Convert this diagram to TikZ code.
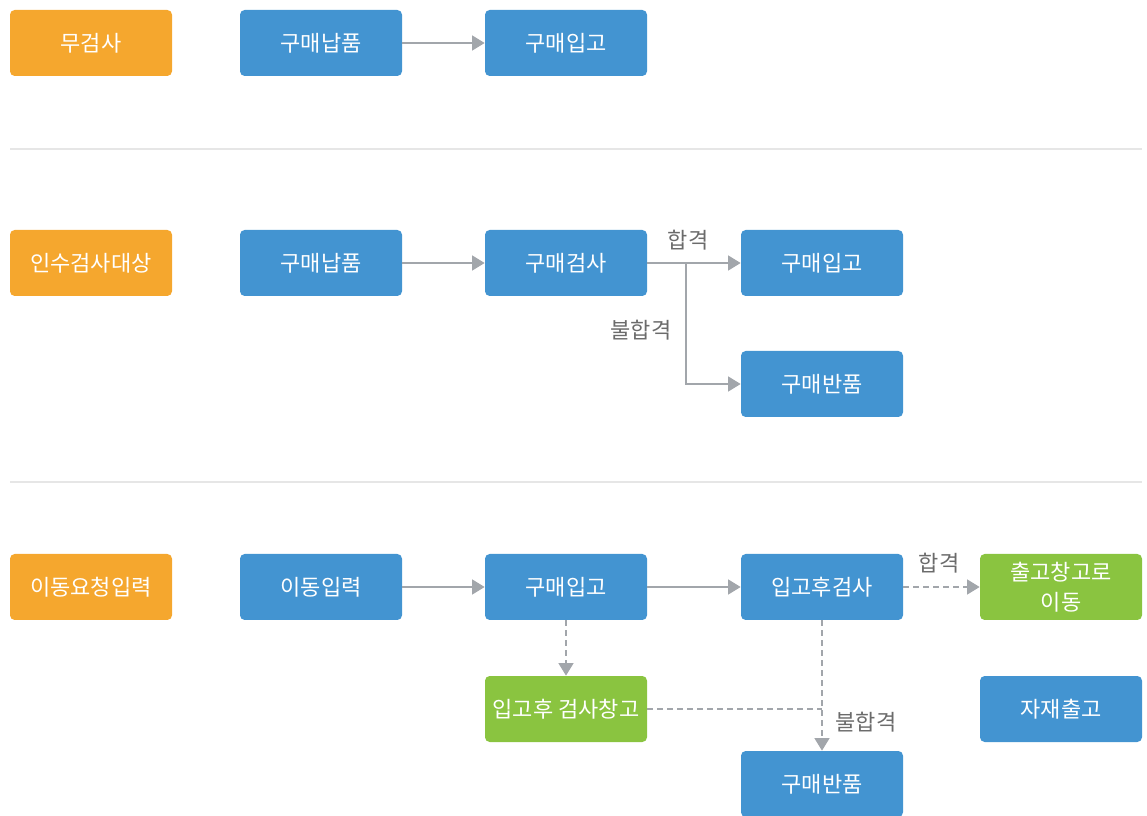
\documentclass[tikz,border=0pt]{standalone}
\usepackage{fontspec}
\setmainfont{Noto Sans CJK KR}
\usepackage{tikz}
\usetikzlibrary{arrows.meta,positioning}

\definecolor{boxorange}{HTML}{F5A72E}
\definecolor{boxblue}{HTML}{4394D1}
\definecolor{boxgreen}{HTML}{8AC440}
\definecolor{linegray}{HTML}{A2A6AB}
\definecolor{rulegray}{HTML}{E6E6E6}
\definecolor{labelgray}{HTML}{6B6B6B}

\begin{document}
\begin{tikzpicture}[x=0.75pt, y=-0.75pt]
			\tikzstyle{Box}		= [rounded corners=3.5pt, minimum width=121.5pt, minimum height=49.5pt, inner sep=0pt, text=white, align=center, font=\fontsize{16.5}{22.5}\selectfont]
			\tikzstyle{Kind}	= [Box, fill=boxorange]
			\tikzstyle{Step}	= [Box, fill=boxblue]
			\tikzstyle{Store}	= [Box, fill=boxgreen]
			\tikzstyle{Note}	= [text=labelgray, inner sep=0pt, font=\fontsize{16.5}{20}\selectfont]
			\tikzstyle{Flow}	= [draw=linegray, line width=2pt, -{Triangle[length=9.5pt, width=11pt]}]
			\tikzstyle{Dots}	= [dash pattern=on 4.5pt off 3pt]
			\tikzstyle{Rule}	= [draw=rulegray, line width=1.5pt]

			\useasboundingbox (0, 0) rectangle (1147, 816);

			% row 1
			\node (kind1) at (91, 43) [Kind] {무검사};
			\node (deliv1) at (321, 43) [Step] {구매납품};
			\node (in1) at (566, 43) [Step] {구매입고};

			\draw [-] (deliv1) to (in1) [Flow];

			\draw [-] (10, 149) to (1142, 149) [Rule];

			% row 2
			\node (kind2) at (91, 263) [Kind] {인수검사대상};
			\node (deliv2) at (321, 263) [Step] {구매납품};
			\node (insp2) at (566, 263) [Step] {구매검사};
			\node (in2) at (822, 263) [Step] {구매입고};
			\node (ret2) at (822, 384) [Step] {구매반품};
			\coordinate (split2) at (686, 263);

			\draw [-] (deliv2) to (insp2) [Flow];
			\draw [-] (insp2) to (in2) [Flow];
			\draw [-] (split2) |- (ret2) [Flow];

			\node (pass2) at (688, 240) [Note] {합격};
			\node (fail2) at (641, 330) [Note] {불합격};

			\draw [-] (10, 482) to (1142, 482) [Rule];

			% row 3
			\node (kind3) at (91, 587) [Kind] {이동요청입력};
			\node (move3) at (321, 587) [Step] {이동입력};
			\node (in3) at (566, 587) [Step] {구매입고};
			\node (insp3) at (822, 587) [Step] {입고후검사};
			\node (out3) at (1061, 587) [Store] {출고창고로\\이동};
			\node (hold3) at (566, 709) [Store] {입고후 검사창고};
			\node (issue3) at (1061, 709) [Step] {자재출고};
			\node (ret3) at (822, 784) [Step] {구매반품};

			\draw [-] (move3) to (in3) [Flow];
			\draw [-] (in3) to (insp3) [Flow];
			\draw [-] (insp3) to (out3) [Flow, Dots];
			\draw [-] (in3) to (hold3) [Flow, Dots];
			\draw [-] (insp3) to (ret3) [Flow, Dots];
			\draw [-] (hold3.east) to (hold3.east -| insp3.south) [draw=linegray, line width=2pt, Dots];

			\node (pass3) at (939, 563) [Note] {합격};
			\node (fail3) at (866, 722) [Note] {불합격};
		\end{tikzpicture}
\end{document}
